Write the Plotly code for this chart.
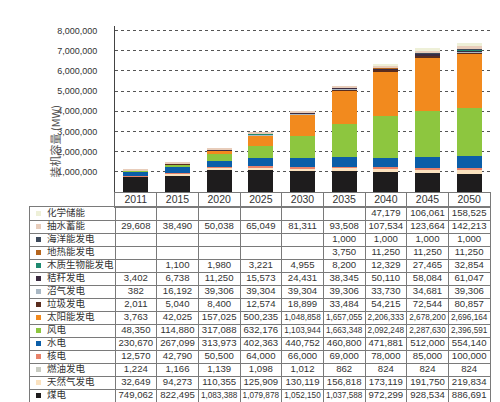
import plotly.graph_objects as go

years = ["2011", "2015", "2020", "2025", "2030", "2035", "2040", "2045", "2050"]

# series listed bottom-of-stack first
coal      = [749062, 822495, 1083388, 1079878, 1052150, 1037588, 972299, 928534, 886691]
gas       = [32649, 94273, 110355, 125909, 130119, 156818, 173119, 191750, 219834]
oil       = [1224, 1166, 1139, 1098, 1012, 862, 824, 824, 824]
nuclear   = [12570, 42790, 50500, 64000, 66000, 69000, 78000, 85000, 100000]
hydro     = [230670, 267099, 313973, 402363, 440752, 460800, 471881, 512000, 554140]
wind      = [48350, 114880, 317088, 632176, 1103944, 1663348, 2092248, 2287630, 2396591]
solar     = [3763, 42025, 157025, 500235, 1048858, 1657055, 2206333, 2678200, 2696164]
waste     = [2011, 5040, 8400, 12574, 18899, 33484, 54215, 72544, 80857]
biogas    = [382, 16192, 39306, 39304, 39304, 39306, 33730, 34681, 39306]
straw     = [3402, 6738, 11250, 15573, 24431, 38345, 50110, 58084, 61047]
woody     = [None, 1100, 1980, 3221, 4955, 8200, 12329, 27465, 32854]
geotherm  = [None, None, None, None, None, 3750, 11250, 11250, 11250]
ocean     = [None, None, None, None, None, 1000, 1000, 1000, 1000]
pumped    = [29608, 38490, 50038, 65049, 81311, 93508, 107534, 123664, 142213]
chemical  = [None, None, None, None, None, None, 47179, 106061, 158525]

names = ["煤电", "天然气发电", "燃油发电", "核电", "水电", "风电", "太阳能发电", "垃圾发电",
         "沼气发电", "秸秆发电", "木质生物能发电", "地热能发电", "海洋能发电", "抽水蓄能", "化学储能"]
series = [coal, gas, oil, nuclear, hydro, wind, solar, waste, biogas, straw, woody, geotherm,
          ocean, pumped, chemical]
colors = ["#1e1c1d", "#fbe2bf", "#c9ccc2", "#e8826a", "#0b5ea8", "#8dc63f", "#f28a1e", "#5a2d1e",
          "#a9b8c4", "#3b2b40", "#1f8a70", "#b5651d", "#3d4a5c", "#e8cdbb", "#eef0d8"]

ytick_vals = [1000000, 2000000, 3000000, 4000000, 5000000, 6000000, 7000000, 8000000]

W, H = 500, 402


def fx(px):
    return px / W


def fy(py):
    return (H - py) / H


num_font = "Liberation Sans"
cjk_font = "Noto Sans CJK SC"
line_col = "#7a7a7a"
txt_col = "#333333"

COL_W = (482 - 107) / len(years)      # px width of one year column
LW = (107 - 22) / COL_W               # label column width in column units
n_rows = len(names)

fig = go.Figure()
for name, vals, col in zip(names, series, colors):
    fig.add_trace(go.Bar(
        x=years, y=[v if v is not None else 0 for v in vals], name=name,
        marker=dict(color=col, line=dict(width=0)),
        xaxis="x", yaxis="y", showlegend=False,
    ))

# ---- header row of the table (years) ----
fig.add_trace(go.Scatter(
    x=[j + 0.5 for j in range(len(years))], y=[0.5] * len(years), text=years,
    mode="text", textposition="middle center", cliponaxis=False,
    textfont=dict(family=num_font, size=10.5, color=txt_col),
    xaxis="x4", yaxis="y4", showlegend=False, hoverinfo="skip",
))

# ---- table body: rows top to bottom (reverse of the stack) ----
rev_names = names[::-1]
rev_series = series[::-1]
rev_colors = colors[::-1]

fig.add_trace(go.Scatter(
    x=[-LW + 8.5 / COL_W] * n_rows, y=[i + 0.5 for i in range(n_rows)],
    mode="markers", marker=dict(symbol="square", size=5, color=rev_colors),
    xaxis="x3", yaxis="y3", showlegend=False, hoverinfo="skip",
))
fig.add_trace(go.Scatter(
    x=[-LW + 17 / COL_W] * n_rows, y=[i + 0.5 for i in range(n_rows)], text=rev_names,
    mode="text", textposition="middle right", cliponaxis=False,
    textfont=dict(family=cjk_font, size=9.5, color=txt_col),
    xaxis="x3", yaxis="y3", showlegend=False, hoverinfo="skip",
))
cx, cy, ct, cs = [], [], [], []
for i, s in enumerate(rev_series):
    for j, v in enumerate(s):
        if v is not None:
            label = f"{v:,}"
            cx.append(j + 0.5)
            cy.append(i + 0.5)
            ct.append(label)
            cs.append(8.2 if len(label) > 7 else 9.6)
fig.add_trace(go.Scatter(
    x=cx, y=cy, text=ct, mode="text", textposition="middle center", cliponaxis=False,
    textfont=dict(family=num_font, size=cs, color=txt_col),
    xaxis="x3", yaxis="y3", showlegend=False, hoverinfo="skip",
))

grid_axis = dict(showticklabels=False, ticks="", showgrid=True, gridcolor=line_col, gridwidth=1,
                 zeroline=False, showline=True, mirror=True, linecolor=line_col, linewidth=1,
                 fixedrange=True, automargin=False)

fig.update_layout(
    width=W, height=H,
    margin=dict(l=0, r=0, t=0, b=0, autoexpand=False),
    paper_bgcolor="white", plot_bgcolor="white",
    barmode="stack", bargap=0.4,
    xaxis=dict(domain=[fx(107), fx(482)], showticklabels=False, showgrid=False,
               zeroline=False, showline=False, ticks="", automargin=False, anchor="y"),
    yaxis=dict(domain=[fy(184), fy(18)], range=[0, 8230000], anchor="x",
               tickvals=ytick_vals, tickformat=",d",
               tickfont=dict(family=num_font, size=9, color=txt_col),
               ticklabelstandoff=15, automargin=False,
               showgrid=True, gridcolor="#555555", griddash="dot", gridwidth=1,
               zeroline=False, showline=True, linecolor="#444444", linewidth=1, ticks=""),
    # table body
    xaxis3=dict(domain=[fx(22), fx(482)], range=[-LW, len(years)], anchor="y3",
                tickvals=list(range(len(years))), **grid_axis),
    yaxis3=dict(domain=[fy(394), fy(199)], range=[n_rows, 0], anchor="x3",
                tickvals=list(range(1, n_rows)), **grid_axis),
    # table header
    xaxis4=dict(domain=[fx(107), fx(482)], range=[0, len(years)], anchor="y4",
                tickvals=list(range(1, len(years))), **grid_axis),
    yaxis4=dict(domain=[fy(199), fy(185)], range=[0, 1], anchor="x4",
                tickvals=[], **grid_axis),
    annotations=[dict(
        text="装机容量 (MW)", textangle=-90, x=fx(36), y=fy(95),
        xref="paper", yref="paper", showarrow=False,
        font=dict(family=cjk_font, size=11, color="#555555"),
    )],
)

fig.write_html("out.html")
